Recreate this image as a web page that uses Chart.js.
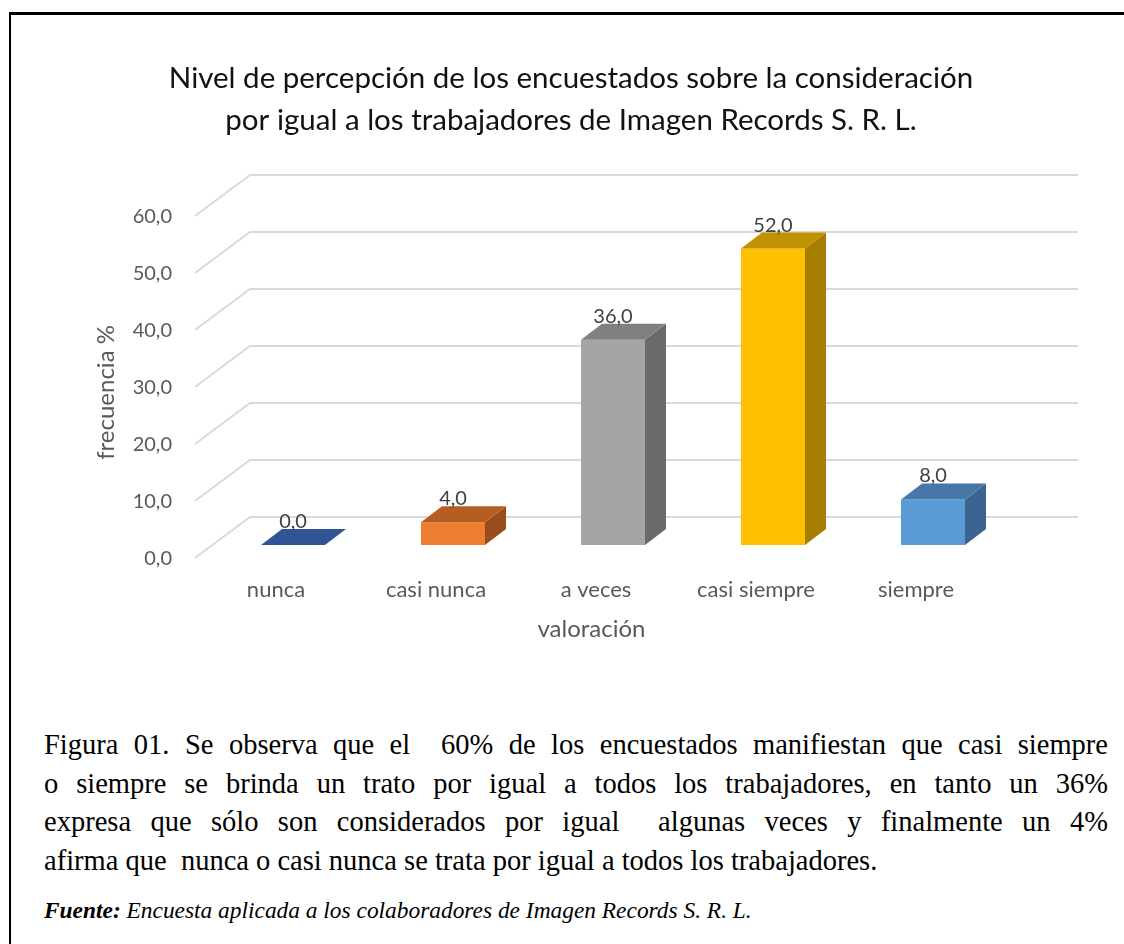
<!DOCTYPE html>
<html lang="es">
<head>
<meta charset="UTF-8">
<title>Nivel de percepción - Imagen Records</title>
<script src="https://cdn.jsdelivr.net/npm/chart.js"></script>
<style>
    body {
        margin: 0;
        background: #fff;
        width: 1124px;
        height: 944px;
        position: relative;
        overflow: hidden;
    }
    .frame {
        position: absolute;
        left: 9px;
        top: 12px;
        right: 0;
        bottom: 0;
        border-top: 3px solid #000;
        border-left: 2px solid #000;
    }
    .chart-box {
        position: absolute;
        left: 0;
        top: 0;
        width: 1124px;
        height: 700px;
    }
    .caption {
        position: absolute;
        left: 44px;
        top: 726px;
        width: 1064px;
        font-family: "Liberation Serif", "Times New Roman", serif;
        font-size: 28.5px;
        line-height: 38.7px;
        color: #000;
    }
    .caption div {
        text-align: justify;
        text-align-last: justify;
    }
    .source {
        position: absolute;
        left: 44px;
        top: 897px;
        font-family: "Liberation Serif", "Times New Roman", serif;
        font-size: 23.4px;
        font-style: italic;
        color: #000;
    }
</style>
</head>
<body>
<div class="frame"></div>
<div class="chart-box">
    <canvas id="percepcionChart" width="1124" height="700"></canvas>
</div>
<div class="caption">
    <div>Figura 01. Se observa que el&nbsp; 60% de los encuestados manifiestan que casi siempre</div>
    <div>o siempre se brinda un trato por igual a todos los trabajadores, en tanto un 36%</div>
    <div>expresa que sólo son considerados por igual&nbsp; algunas veces y finalmente un 4%</div>
    <div style="text-align-last:left">afirma que&nbsp; nunca o casi nunca se trata por igual a todos los trabajadores.</div>
</div>
<div class="source"><b>Fuente:</b> Encuesta aplicada a los colaboradores de Imagen Records S. R. L.</div>

<script>
    // datos
    const categorias = ['nunca', 'casi nunca', 'a veces', 'casi siempre', 'siempre'];
    const frecuencia = [0, 4, 36, 52, 8];
    const yMin = 0;
    const yMax = 60;
    const yStep = 10;

    const frontColors = ['#2F5597', '#ED7D31', '#A5A5A5', '#FFC000', '#5B9BD5'];
    const topColors = ['#2F5597', '#B65D22', '#808080', '#C09100', '#4677A6'];
    const sideColors = ['#254478', '#9A4D1C', '#6A6A6A', '#A77E00', '#3B6590'];

    const FONT = 'Lato';
    const DX = 21, DY = 16;   // profundidad de las barras
    const NB = '\u00a0';

    function fmt(v) {
        return Number(v).toFixed(1).replace('.', ',');
    }

    // pared lateral y lineas de division en perspectiva
    const gridPlugin = {
        id: 'grid3d',
        beforeDatasetsDraw(chart) {
            const {ctx, chartArea, scales} = chart;
            const y = scales.y;
            ctx.save();
            ctx.strokeStyle = '#D9D9D9';
            ctx.lineWidth = 2;
            for (let v = yMin; v <= yMax; v += yStep) {
                const p = y.getPixelForValue(v);
                ctx.beginPath();
                ctx.moveTo(chartArea.left - 18, p + 13);
                ctx.lineTo(chartArea.left + 37, p - 28);
                ctx.lineTo(chartArea.right + 65, p - 28);
                ctx.stroke();
            }
            ctx.restore();
        }
    };

    // caras superior y lateral + etiquetas de datos
    const barPlugin = {
        id: 'bars3d',
        afterDatasetsDraw(chart) {
            const {ctx} = chart;
            const meta = chart.getDatasetMeta(0);
            ctx.save();
            meta.data.forEach((bar, i) => {
                const {x, y, base, width} = bar.getProps(['x', 'y', 'base', 'width'], true);
                const l = x - width / 2, r = x + width / 2;
                // lateral
                if (base - y > 0.5) {
                    ctx.fillStyle = sideColors[i];
                    ctx.beginPath();
                    ctx.moveTo(r, y);
                    ctx.lineTo(r + DX, y - DY);
                    ctx.lineTo(r + DX, base - DY);
                    ctx.lineTo(r, base);
                    ctx.closePath();
                    ctx.fill();
                }
                // superior
                ctx.fillStyle = topColors[i];
                ctx.beginPath();
                ctx.moveTo(l, y);
                ctx.lineTo(l + DX, y - DY);
                ctx.lineTo(r + DX, y - DY);
                ctx.lineTo(r, y);
                ctx.closePath();
                ctx.fill();
                // etiqueta
                ctx.fillStyle = '#404040';
                ctx.font = '20px ' + FONT;
                ctx.textAlign = 'center';
                ctx.textBaseline = 'alphabetic';
                ctx.fillText(fmt(frecuencia[i]), x, y - DY - 1);
            });
            ctx.restore();
        }
    };

    new Chart(document.getElementById('percepcionChart'), {
        type: 'bar',
        data: {
            labels: categorias,
            datasets: [{
                label: 'frecuencia %',
                data: frecuencia,
                backgroundColor: frontColors,
                borderWidth: 0,
                barPercentage: 0.4,
                categoryPercentage: 1
            }]
        },
        options: {
            responsive: false,
            animation: false,
            layout: {
                padding: {left: 129, right: 111, top: 57, bottom: 55}
            },
            plugins: {
                legend: {display: false},
                tooltip: {enabled: false},
                title: {
                    display: true,
                    text: ['Nivel de percepción de los encuestados sobre la consideración',
                           'por igual a los trabajadores de Imagen Records S. R. L.'],
                    color: '#111',
                    font: {family: FONT, size: 29.5, weight: 'normal', lineHeight: 1.424},
                    padding: {top: 0, bottom: 62}
                }
            },
            scales: {
                x: {
                    grid: {display: false, drawTicks: false},
                    border: {display: false},
                    ticks: {
                        color: '#595959',
                        font: {family: FONT, size: 22},
                        padding: 32,
                        labelOffset: -17
                    },
                    title: {
                        display: true,
                        // espacios finales para centrar bajo las etiquetas desplazadas
                        text: 'valoración' + NB.repeat(7),
                        color: '#595959',
                        font: {family: FONT, size: 24},
                        padding: {top: 0, bottom: 1}
                    },
                    afterFit(scale) { scale.height = 100; }
                },
                y: {
                    min: yMin,
                    max: yMax,
                    grid: {display: false, drawTicks: false},
                    border: {display: false},
                    ticks: {
                        stepSize: yStep,
                        color: '#595959',
                        font: {family: FONT, size: 20},
                        padding: 41,
                        labelOffset: 14,
                        callback: (v) => fmt(v)
                    },
                    title: {
                        display: true,
                        text: 'frecuencia %' + NB.repeat(6),
                        color: '#595959',
                        font: {family: FONT, size: 24},
                        padding: {top: -37, bottom: 0}
                    },
                    afterFit(scale) { scale.width = 84; }
                }
            }
        },
        plugins: [gridPlugin, barPlugin]
    });
</script>
</body>
</html>
